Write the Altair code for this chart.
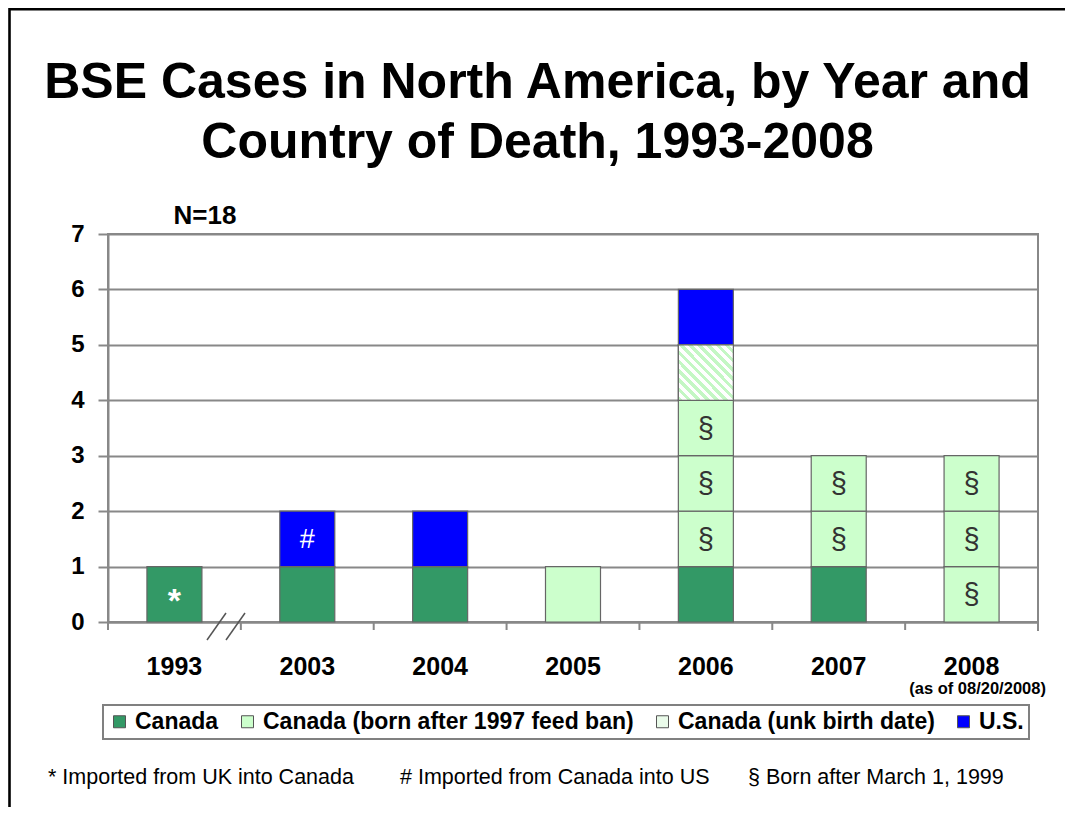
import altair as alt
import pandas as pd

# ---------------- data ----------------
years = ["1993", "2003", "2004", "2005", "2006", "2007", "2008"]
canada = [1, 1, 1, 0, 1, 1, 0]
canada_born_after = [0, 0, 0, 1, 3, 2, 3]
canada_unk = [0, 0, 0, 0, 1, 0, 0]
us = [0, 1, 1, 0, 1, 0, 0]
section_counts = [0, 0, 0, 0, 3, 2, 3]   # born-after cases marked with §
star_counts = [1, 0, 0, 0, 0, 0, 0]      # Canada cases marked *
hash_counts = [0, 1, 0, 0, 0, 0, 0]      # U.S. cases marked #

types = ["Canada", "Canada (born after 1997 feed ban)", "Canada (unk birth date)", "U.S."]
colors = ["#339966", "#CCFFCC", "#EAFBEA", "#0000FF"]

title_line1 = "BSE Cases in North America, by Year and"
title_line2 = "Country of Death, 1993-2008"
n_label = "N=18"
last_year_note = "(as of 08/20/2008)"
footnotes = ["* Imported from UK into Canada",
             "# Imported from Canada into US",
             "\u00a7 Born after March 1, 1999"]

# ---------------- build table (one row per case) ----------------
rows = []
for i, yr in enumerate(years):
    base = 0
    for t, counts in zip(types, [canada, canada_born_after, canada_unk, us]):
        for k in range(counts[i]):
            sym = ""
            if t == "Canada" and k < star_counts[i]:
                sym = "*"
            elif t == "U.S." and k < hash_counts[i]:
                sym = "#"
            elif t == types[1] and k < section_counts[i]:
                sym = "\u00a7"
            rows.append({"year": yr, "type": t, "y0": base, "y1": base + 1,
                         "mid": base + 0.5, "sym": sym})
            base += 1
df = pd.DataFrame(rows)
years_df = pd.DataFrame({"year": years})
one = pd.DataFrame({"k": [0]})

FONT = "Liberation Sans"
GRID = "#888888"

xscale = alt.Scale(domain=years, paddingInner=0, paddingOuter=0)
yscale = alt.Scale(domain=[0, 7], nice=False)

x_enc = alt.X("year:N", scale=xscale, sort=years,
              axis=alt.Axis(title=None, labelAngle=0, ticks=False, tickSize=0,
                            domainColor=GRID, domainWidth=2, grid=False,
                            labelFont=FONT, labelFontSize=25, labelFontWeight="bold",
                            labelColor="black", labelBaseline="alphabetic",
                            labelPadding=52))
y_enc = alt.Y("y0:Q", scale=yscale,
              axis=alt.Axis(title=None, values=list(range(8)), format="d", grid=True,
                            gridColor=GRID, gridWidth=2, domainColor=GRID,
                            domainWidth=2, tickColor=GRID, tickWidth=2, tickSize=10,
                            labelFont=FONT, labelFontSize=24, labelFontWeight="bold",
                            labelColor="black", labelPadding=14))

bars = alt.Chart(df).mark_bar(width=alt.RelativeBandSize(0.414), stroke="#666666",
                              strokeWidth=1.2).encode(
    x=x_enc,
    y=y_enc,
    y2="y1:Q",
    color=alt.Color("type:N", scale=alt.Scale(domain=types, range=colors),
                    legend=alt.Legend(orient="none", legendX=-5, legendY=471,
                                      direction="horizontal", columns=4, title=None,
                                      symbolType="square", symbolSize=144,
                                      symbolStrokeColor="#555555", symbolStrokeWidth=1,
                                      labelFont=FONT, labelFontSize=23,
                                      labelFontWeight="bold", labelColor="black",
                                      labelLimit=600, columnPadding=17, labelOffset=4,
                                      padding=5)),
)

# hatched pattern for the "unknown birth date" case
stops = []
N = 12
for i in range(N):
    a, m, b = i / N, (i + 0.5) / N, (i + 1) / N
    stops += [alt.GradientStop(color="#C4F7C4", offset=a),
              alt.GradientStop(color="#C4F7C4", offset=m),
              alt.GradientStop(color="#FFFFFF", offset=m),
              alt.GradientStop(color="#FFFFFF", offset=b)]
hatch = alt.LinearGradient(gradient="linear", stops=stops, x1=0, y1=1, x2=1, y2=0)

hatched = alt.Chart(df).transform_filter(
    alt.datum.type == types[2]
).mark_bar(width=alt.RelativeBandSize(0.414), fill=hatch, stroke="#666666",
           strokeWidth=1.2).encode(
    x=alt.X("year:N", scale=xscale, sort=years),
    y=alt.Y("y0:Q", scale=yscale),
    y2="y1:Q",
)

sect_text = alt.Chart(df).transform_filter(alt.datum.sym == "\u00a7").mark_text(
    font=FONT, fontSize=29, color="#333333", baseline="middle", dy=1
).encode(x=alt.X("year:N", scale=xscale, sort=years),
         y=alt.Y("mid:Q", scale=yscale), text="sym:N")

star_text = alt.Chart(df).transform_filter(alt.datum.sym == "*").mark_text(
    font=FONT, fontSize=34, fontWeight="bold", color="white", baseline="middle", dy=8
).encode(x=alt.X("year:N", scale=xscale, sort=years),
         y=alt.Y("mid:Q", scale=yscale), text="sym:N")

hash_text = alt.Chart(df).transform_filter(alt.datum.sym == "#").mark_text(
    font=FONT, fontSize=27, color="white", baseline="middle", dy=1
).encode(x=alt.X("year:N", scale=xscale, sort=years),
         y=alt.Y("mid:Q", scale=yscale), text="sym:N")

# category boundary ticks under the axis
bticks = alt.Chart(years_df).mark_rule(color=GRID, strokeWidth=2).encode(
    x=alt.X("year:N", scale=xscale, sort=years, bandPosition=0),
    y=alt.value(388), y2=alt.value(396))
right_tick = alt.Chart(one).mark_rule(color=GRID, strokeWidth=2).encode(
    x=alt.value(930), y=alt.value(388), y2=alt.value(397))

# axis break marks next to 1993
brk1 = alt.Chart(one).mark_rule(color="#555555", strokeWidth=1.5).encode(
    x=alt.value(99), x2=alt.value(118), y=alt.value(406), y2=alt.value(379))
brk2 = alt.Chart(one).mark_rule(color="#555555", strokeWidth=1.5).encode(
    x=alt.value(118), x2=alt.value(137), y=alt.value(406), y2=alt.value(379))

# titles & notes
t1 = alt.Chart(one).mark_text(font=FONT, fontSize=50, fontWeight="bold",
                              align="center", baseline="middle", color="black").encode(
    x=alt.value(429.5), y=alt.value(-151), text=alt.value(title_line1))
t2 = alt.Chart(one).mark_text(font=FONT, fontSize=50, fontWeight="bold",
                              align="center", baseline="middle", color="black").encode(
    x=alt.value(429.5), y=alt.value(-91), text=alt.value(title_line2))
nlab = alt.Chart(one).mark_text(font=FONT, fontSize=26, fontWeight="bold",
                                align="center", baseline="middle", color="black").encode(
    x=alt.value(97), y=alt.value(-18), text=alt.value(n_label))
asof = alt.Chart(pd.DataFrame({"year": [years[-1]]})).mark_text(
    font=FONT, fontSize=16.5, fontWeight="bold", align="center", baseline="middle",
    color="black", dx=6
).encode(x=alt.X("year:N", scale=xscale, sort=years), y=alt.value(455),
         text=alt.value(last_year_note))

fn_x = [-60, 292, 640]
fns = [alt.Chart(one).mark_text(font=FONT, fontSize=21.5, align="left",
                                baseline="middle", color="black").encode(
    x=alt.value(fx), y=alt.value(544), text=alt.value(txt))
       for fx, txt in zip(fn_x, footnotes)]

# outer slide frame
frame_top = alt.Chart(one).mark_rule(color="black", strokeWidth=2.6).encode(
    x=alt.value(-98.5), x2=alt.value(960), y=alt.value(-224.8))
frame_left = alt.Chart(one).mark_rule(color="black", strokeWidth=2.6).encode(
    x=alt.value(-98.5), y=alt.value(-226), y2=alt.value(600))

chart = alt.layer(
    bars, hatched, sect_text, star_text, hash_text, bticks, right_tick, brk1, brk2,
    t1, t2, nlab, asof, *fns, frame_top, frame_left
).properties(
    width=930, height=388,
    padding={"left": 100, "top": 226, "right": 27, "bottom": 185},
    autosize=alt.AutoSizeParams(type="none"),
    background="white",
).configure_view(
    stroke=GRID, strokeWidth=2
).configure_legend(
    strokeColor="#808080", strokeWidth=2
)

chart.save("out.html", embed_options={"renderer": "svg", "actions": False})
